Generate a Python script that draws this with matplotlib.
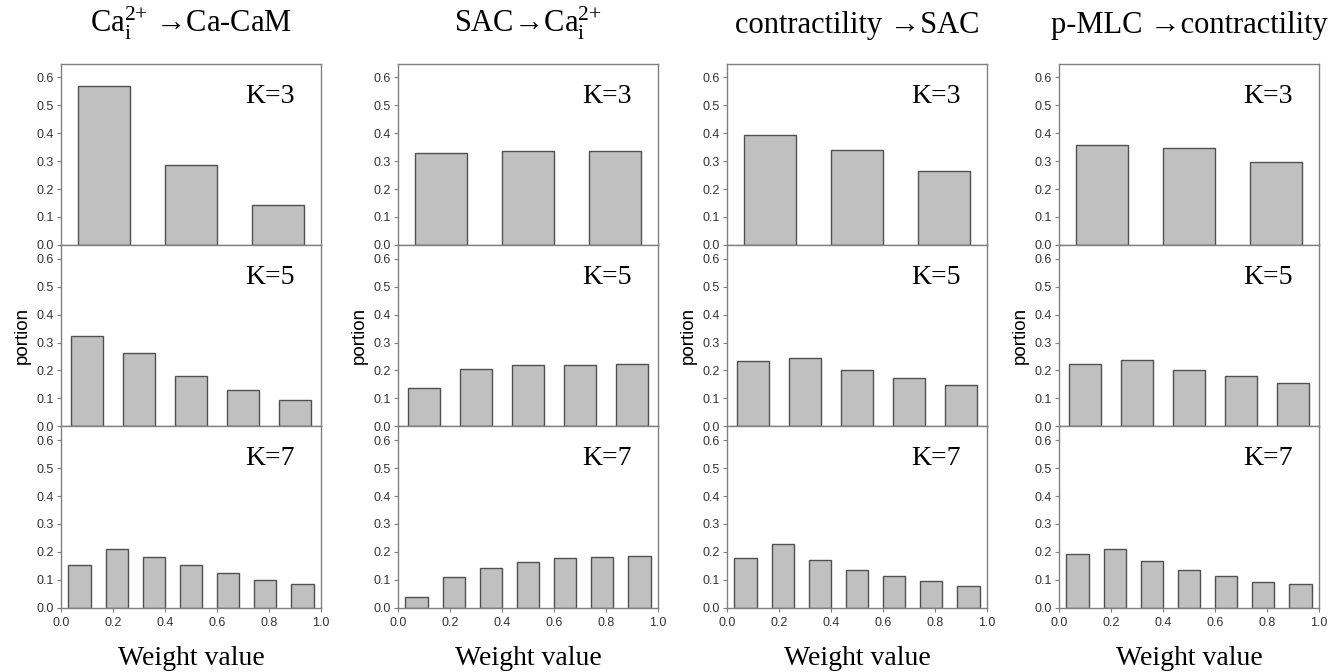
import numpy as np
import matplotlib
matplotlib.use("Agg")
import matplotlib.pyplot as plt

# ---- data ----
titles = [r"Ca$_\text{i}^\text{2+}$ →Ca-CaM",
          r"SAC→Ca$_\text{i}^\text{2+}$",
          "contractility →SAC",
          "p-MLC →contractility"]
k_values = [3, 5, 7]

caca_k3 = [0.570, 0.287, 0.144]
caca_k5 = [0.324, 0.264, 0.182, 0.130, 0.095]
caca_k7 = [0.152, 0.210, 0.182, 0.154, 0.123, 0.100, 0.085]

sac_k3 = [0.328, 0.336, 0.335]
sac_k5 = [0.139, 0.205, 0.218, 0.220, 0.222]
sac_k7 = [0.037, 0.110, 0.141, 0.163, 0.177, 0.183, 0.185]

con_k3 = [0.395, 0.341, 0.265]
con_k5 = [0.234, 0.244, 0.202, 0.174, 0.147]
con_k7 = [0.179, 0.227, 0.171, 0.135, 0.112, 0.096, 0.079]

mlc_k3 = [0.359, 0.346, 0.297]
mlc_k5 = [0.225, 0.238, 0.202, 0.181, 0.154]
mlc_k7 = [0.192, 0.211, 0.169, 0.135, 0.114, 0.093, 0.084]

columns = [[caca_k3, caca_k5, caca_k7],
           [sac_k3, sac_k5, sac_k7],
           [con_k3, con_k5, con_k7],
           [mlc_k3, mlc_k5, mlc_k7]]

y_ticks = [0.0, 0.1, 0.2, 0.3, 0.4, 0.5, 0.6]
x_ticks = [0.0, 0.2, 0.4, 0.6, 0.8, 1.0]

# ---- style ----
plt.rcParams['mathtext.fontset'] = 'custom'
plt.rcParams['mathtext.rm'] = 'Liberation Serif'
plt.rcParams['mathtext.it'] = 'Liberation Serif:italic'
serif = ['Liberation Serif', 'DejaVu Serif']
sans = ['Liberation Sans', 'DejaVu Sans']

W, H = 1341, 672
fig = plt.figure(figsize=(W / 100, H / 100), dpi=100)

lefts_px = [61, 398, 727, 1059]
width_px = 260
top_px = 63.5
height_px = 181.4

spine_col = '#808080'
tick_col = '#333333'

for c, col in enumerate(columns):
    for r, vals in enumerate(col):
        K = k_values[r]
        l = lefts_px[c] / W
        b = (H - (top_px + (r + 1) * height_px)) / H
        ax = fig.add_axes([l, b, width_px / W, height_px / H])
        centers = (np.arange(K) + 0.5) / K
        ax.bar(centers, vals, width=0.6 / K, color='#c0c0c0',
               edgecolor='#505050', linewidth=1.0, zorder=2)
        ax.set_xlim(0, 1.0)
        ax.set_ylim(0, 0.65)
        ax.set_yticks(y_ticks)
        ax.set_yticklabels([f"{v:.1f}" for v in y_ticks],
                           family=sans, fontsize=9, color=tick_col)
        ax.tick_params(axis='y', direction='out', length=3, width=0.8,
                       color=spine_col, pad=2)
        if r == 2:
            ax.set_xticks(x_ticks)
            ax.set_xticklabels([f"{v:.1f}" for v in x_ticks],
                               family=sans, fontsize=9, color=tick_col)
            ax.tick_params(axis='x', direction='out', length=3, width=0.8,
                           color=spine_col, pad=4)
            ax.set_xlabel("Weight value", family=serif, fontsize=20,
                          labelpad=12)
        else:
            ax.set_xticks([])
        if r == 1:
            ax.set_ylabel("portion", family=sans, fontsize=13.5, labelpad=4)
        for s in ax.spines.values():
            s.set_color(spine_col)
            s.set_linewidth(1.0)
        ax.text(0.90, 0.82, f"K={K}", transform=ax.transAxes,
                ha='right', va='center', family=serif, fontsize=20)
    cx = (lefts_px[c] + width_px / 2) / W
    fig.text(cx, (H - 33) / H, titles[c], ha='center', va='baseline',
             family=serif, fontsize=22)

fig.savefig("out.png", dpi=100)
